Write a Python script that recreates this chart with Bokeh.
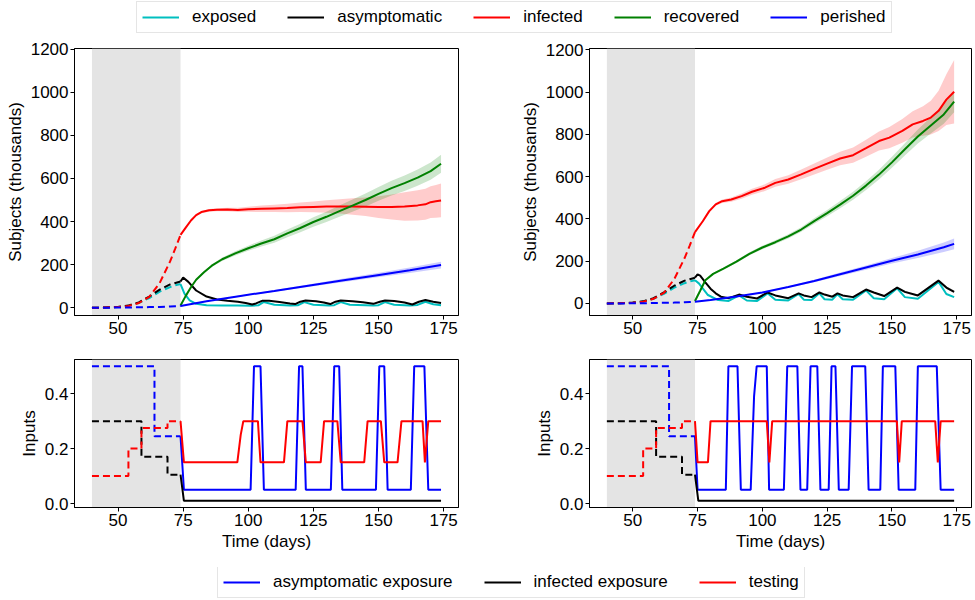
from bokeh.plotting import figure
from bokeh.models import Range1d, FixedTicker, Legend, LegendItem, BoxAnnotation, NumeralTickFormatter
from bokeh.layouts import column, row
from bokeh.embed import file_html
from bokeh.resources import INLINE

FONT = "Liberation Sans"
C_EXP, C_ASY, C_INF, C_REC, C_PER = "#00bfbf", "#000000", "#ff0000", "#008000", "#0000ff"

# ---------------- data ----------------
X_TICKS = [50, 75, 100, 125, 150, 175]
Y_TICKS_TOP = [0, 200, 400, 600, 800, 1000, 1200]
Y_TICKS_BOT = [0.0, 0.2, 0.4]
LOCKDOWN = [40, 74]

# pre-intervention (dashed), same in both panels
t_pre = [40, 45, 50, 54, 58, 62, 66, 70, 72, 74]
infected_pre = [0, 1, 3, 8, 22, 50, 115, 215, 275, 338]
asym_pre = [0, 1, 4, 10, 25, 52, 84, 108, 115, 122]
exposed_pre = [0, 1, 3, 9, 22, 45, 75, 96, 104, 110]
perished_pre = [0, 0, 1, 1, 2, 3, 4, 6, 7, 8]

# left panel
L_inf_t = [74, 76, 78, 80, 82, 85, 88, 92, 96, 100, 105, 110, 115, 120, 125, 130, 135, 140, 145, 150, 155, 160, 165, 168, 170, 172, 174]
L_inf = [338, 372, 405, 430, 444, 452, 455, 456, 454, 457, 459, 461, 463, 466, 468, 470, 470, 470, 469, 467, 467, 470, 475, 480, 490, 494, 498]
L_inf_sd = [0, 2, 3, 4, 5, 6, 7, 8, 10, 12, 15, 17, 20, 22, 25, 29, 33, 38, 43, 50, 58, 66, 70, 72, 74, 76, 78]

L_rec_t = [74, 76, 78, 80, 83, 86, 90, 95, 100, 105, 110, 115, 120, 125, 130, 135, 140, 145, 150, 155, 160, 165, 170, 174]
L_rec = [10, 55, 95, 130, 165, 195, 225, 252, 276, 298, 318, 345, 370, 398, 422, 448, 474, 500, 528, 555, 578, 604, 634, 668]
L_rec_sd = [0, 2, 3, 4, 5, 6, 8, 10, 12, 14, 16, 18, 20, 22, 24, 26, 28, 30, 32, 34, 36, 38, 40, 42]

L_per_t = [74, 84, 97, 110, 123, 136, 149, 162, 174]
L_per = [8, 30, 55, 78, 102, 126, 150, 174, 198]
L_per_sd = [0, 2, 3, 4, 6, 8, 10, 13, 16]

L_exp_t = [74, 75.5, 77.5, 80, 84, 90, 96, 101, 104, 106, 110, 116, 119, 121.5, 125, 131, 133, 135.5, 139, 148, 150, 152.5, 156, 162, 165, 168, 171, 174]
L_exp = [110, 65, 34, 18, 12, 10, 10, 9, 12, 27, 14, 10, 11, 26, 14, 10, 12, 26, 14, 10, 12, 26, 14, 10, 13, 28, 16, 12]

L_asy_t = [74, 75, 77, 80, 84, 88, 92, 96, 99, 101.5, 103, 105.5, 108, 112, 116, 118, 120, 122, 126, 129, 131.5, 133.5, 135.5, 140, 144, 148, 150.5, 152.5, 156, 160, 163, 165.5, 168, 171, 174]
L_asy = [122, 140, 120, 80, 52, 38, 32, 28, 22, 15, 20, 33, 32, 27, 20, 17, 28, 34, 30, 24, 17, 28, 34, 30, 25, 18, 28, 34, 31, 24, 15, 28, 36, 28, 22]

# right panel
R_inf_t = [74, 77, 79.5, 82, 84.5, 88, 92, 96, 101, 105, 110, 115, 120, 125, 130, 135, 140, 145, 149, 154, 158, 162, 165, 168, 171, 174]
R_inf = [338, 389, 437, 469, 484, 492, 508, 529, 548, 571, 587, 611, 637, 662, 686, 702, 735, 769, 785, 817, 848, 864, 880, 912, 965, 1002]
R_inf_sd = [2, 4, 6, 7, 8, 10, 12, 14, 16, 18, 20, 23, 26, 29, 32, 36, 40, 45, 50, 56, 62, 70, 80, 95, 120, 150]

R_rec_t = [74, 76, 78, 81, 85, 90, 95, 100, 105, 110, 115, 120, 125, 130, 135, 140, 145, 150, 155, 160, 165, 170, 174]
R_rec = [12, 60, 110, 140, 165, 198, 235, 265, 290, 318, 350, 390, 428, 468, 510, 558, 610, 668, 730, 790, 843, 895, 955]
R_rec_sd = [0, 2, 3, 4, 5, 6, 7, 8, 9, 10, 11, 13, 15, 17, 19, 21, 23, 26, 29, 33, 38, 44, 50]

R_per_t = [74, 80, 90, 100, 110, 120, 130, 140, 150, 160, 170, 174]
R_per = [8, 16, 33, 52, 78, 106, 138, 170, 202, 232, 266, 282]
R_per_sd = [0, 1, 2, 3, 4, 6, 8, 10, 13, 17, 22, 25]

R_exp_t = [74, 75.5, 79, 83, 87, 91, 94, 98, 102, 105, 110, 114, 116, 119, 122, 124, 127, 129, 131, 135, 140, 143, 147, 152, 155, 160, 168, 171, 174]
R_exp = [110, 95, 40, 16, 12, 38, 14, 12, 48, 18, 14, 45, 18, 16, 48, 20, 18, 44, 20, 18, 62, 25, 20, 72, 30, 22, 102, 45, 30]

R_asy_t = [74, 75, 76, 78, 80, 82, 84, 87, 91, 94, 98, 102, 105, 110, 114, 116, 119, 122, 124, 127, 129, 131, 135, 140, 143, 147, 152, 155, 160, 168, 171, 174]
R_asy = [122, 138, 132, 100, 70, 48, 32, 25, 42, 32, 24, 52, 38, 25, 48, 38, 30, 52, 42, 32, 48, 38, 30, 66, 52, 35, 75, 55, 38, 108, 75, 55]
R_asy_sd = [0, 1, 1, 1, 1, 1, 1, 1, 2, 2, 2, 2, 2, 2, 3, 3, 3, 3, 3, 3, 3, 3, 4, 4, 4, 4, 5, 5, 5, 8, 7, 6]

# inputs (pre-intervention, dashed, same in both panels)
in_asy_pre_t = [40, 64, 64, 74]
in_asy_pre = [0.5, 0.5, 0.245, 0.245]
in_inf_pre_t = [40, 59, 59, 69, 69, 74]
in_inf_pre = [0.3, 0.3, 0.17, 0.17, 0.105, 0.105]
in_test_pre_t = [40, 54, 54, 59, 59, 69, 69, 74]
in_test_pre = [0.1, 0.1, 0.2, 0.2, 0.275, 0.275, 0.3, 0.3]

in_inf_post_t = [74, 75.3, 174]
in_inf_post = [0.105, 0.01, 0.01]

L_in_asy_t = [74, 75.3, 100.9, 102.2, 104.7, 106, 118.2, 119.5, 120.8, 122.1, 131.7, 133, 134.9, 136.1, 149, 150.3, 152.2, 153.5, 162.4, 163.7, 167.6, 169.1, 174]
L_in_asy = [0.245, 0.05, 0.05, 0.5, 0.5, 0.05, 0.05, 0.5, 0.5, 0.05, 0.05, 0.5, 0.5, 0.05, 0.05, 0.5, 0.5, 0.05, 0.05, 0.5, 0.5, 0.05, 0.05]
L_in_test_t = [74, 75.3, 95.8, 97.1, 98.1, 103.7, 104.7, 113.7, 115, 120.8, 122.1, 127.8, 129.1, 134.2, 135.5, 144.5, 145.8, 150.9, 152.2, 157.3, 158.8, 166.9, 167.8, 169.1, 174]
L_in_test = [0.3, 0.15, 0.15, 0.25, 0.3, 0.3, 0.15, 0.15, 0.3, 0.3, 0.15, 0.15, 0.3, 0.3, 0.15, 0.15, 0.3, 0.3, 0.15, 0.15, 0.3, 0.3, 0.15, 0.3, 0.3]

R_in_asy_t = [74, 75, 85.9, 86.9, 90.4, 91.7, 95.5, 96.8, 97.8, 101.7, 102.6, 108.3, 109.6, 113.5, 114.7, 117.3, 118.6, 121.2, 122.4, 125.6, 126.7, 128.2, 129.5, 133.3, 134.6, 139.7, 141, 145.5, 146.5, 151.3, 152.6, 159, 160, 167.3, 168.8, 174]
R_in_asy = [0.245, 0.05, 0.05, 0.5, 0.5, 0.05, 0.05, 0.39, 0.5, 0.5, 0.05, 0.05, 0.5, 0.5, 0.05, 0.05, 0.5, 0.5, 0.05, 0.05, 0.5, 0.5, 0.05, 0.05, 0.5, 0.5, 0.05, 0.05, 0.5, 0.5, 0.05, 0.05, 0.5, 0.5, 0.05, 0.05]
R_in_test_t = [74, 75, 79, 80, 101.7, 102.7, 103.8, 151.9, 152.8, 153.8, 166.7, 167.7, 168.8, 174]
R_in_test = [0.3, 0.15, 0.15, 0.3, 0.3, 0.15, 0.3, 0.3, 0.15, 0.3, 0.3, 0.15, 0.3, 0.3]

TOP_LABELS = ["exposed", "asymptomatic", "infected", "recovered", "perished"]
TOP_COLORS = [C_EXP, C_ASY, C_INF, C_REC, C_PER]
BOT_LABELS = ["asymptomatic exposure", "infected exposure", "testing"]
BOT_COLORS = [C_PER, C_ASY, C_INF]

X_RANGE = (33.3, 180.7)
DASH = "7 4"
LW = 2


def band(p, t, v, sd, color):
    lo = [a - b for a, b in zip(v, sd)]
    hi = [a + b for a, b in zip(v, sd)]
    p.varea(x=t, y1=lo, y2=hi, fill_color=color, fill_alpha=0.2)


def make_fig(fw, fh, bl, br, bt, bb, yr):
    p = figure(frame_width=fw, frame_height=fh, min_border_left=bl, min_border_right=br,
               min_border_top=bt, min_border_bottom=bb, x_range=Range1d(*X_RANGE),
               y_range=Range1d(*yr), output_backend="svg", toolbar_location=None)
    p.grid.visible = False
    p.outline_line_color = "black"
    p.outline_line_alpha = 1
    p.outline_line_width = 1
    p.background_fill_color = "white"
    p.border_fill_color = "white"
    for ax in p.axis:
        ax.major_label_text_font = FONT
        ax.major_label_text_font_size = "17px"
        ax.major_label_text_color = "black"
        ax.axis_label_text_font = FONT
        ax.axis_label_text_font_size = "17px"
        ax.axis_label_text_font_style = "normal"
        ax.axis_label_text_color = "black"
        ax.major_tick_out = 4
        ax.major_tick_in = 0
        ax.minor_tick_out = 0
        ax.minor_tick_in = 0
        ax.axis_line_color = "black"
        ax.major_tick_line_color = "black"
        ax.major_label_standoff = 2
        ax.axis_label_standoff = 3
    p.xaxis.ticker = FixedTicker(ticks=X_TICKS)
    p.add_layout(BoxAnnotation(left=LOCKDOWN[0], right=LOCKDOWN[1], fill_color="#e4e4e4",
                               fill_alpha=1, line_color=None, level="underlay"))
    return p


def top_panel(p, data):
    (inf_t, inf, inf_sd, rec_t, rec, rec_sd, per_t, per, per_sd, exp_t, exp_, asy_t, asy, asy_sd) = data
    band(p, inf_t, inf, inf_sd, C_INF)
    band(p, rec_t, rec, rec_sd, C_REC)
    band(p, per_t, per, per_sd, C_PER)
    if asy_sd is not None:
        band(p, asy_t, asy, asy_sd, "#000000")
    p.line(t_pre, exposed_pre, color=C_EXP, line_width=LW, line_dash=DASH)
    p.line(t_pre, asym_pre, color=C_ASY, line_width=LW, line_dash=DASH)
    p.line(t_pre, infected_pre, color=C_INF, line_width=LW, line_dash=DASH)
    p.line(t_pre, perished_pre, color=C_PER, line_width=LW, line_dash=DASH)
    p.line(exp_t, exp_, color=C_EXP, line_width=LW)
    p.line(asy_t, asy, color=C_ASY, line_width=LW)
    p.line(inf_t, inf, color=C_INF, line_width=LW)
    p.line(rec_t, rec, color=C_REC, line_width=LW)
    p.line(per_t, per, color=C_PER, line_width=LW)
    p.yaxis.ticker = FixedTicker(ticks=Y_TICKS_TOP)
    p.yaxis.axis_label = "Subjects (thousands)"


def bot_panel(p, asy_t, asy, test_t, test):
    p.line(in_asy_pre_t, in_asy_pre, color=C_PER, line_width=LW, line_dash=DASH)
    p.line(in_inf_pre_t, in_inf_pre, color=C_ASY, line_width=LW, line_dash=DASH)
    p.line(in_test_pre_t, in_test_pre, color=C_INF, line_width=LW, line_dash=DASH)
    p.line(asy_t, asy, color=C_PER, line_width=LW)
    p.line(in_inf_post_t, in_inf_post, color=C_ASY, line_width=LW)
    p.line(test_t, test, color=C_INF, line_width=LW)
    p.yaxis.ticker = FixedTicker(ticks=Y_TICKS_BOT)
    p.yaxis.formatter = NumeralTickFormatter(format="0.0")
    p.yaxis.axis_label = "Inputs"
    p.xaxis.axis_label = "Time (days)"


def legend_fig(h, labels, colors, loc, spacing):
    p = figure(width=973, height=h, x_range=Range1d(0, 1), y_range=Range1d(0, 1),
               x_axis_type=None, y_axis_type=None, output_backend="svg", toolbar_location=None,
               min_border=0, min_border_left=0, min_border_right=0, min_border_top=0, min_border_bottom=0)
    p.grid.visible = False
    p.outline_line_color = None
    items = []
    for lab, c in zip(labels, colors):
        # legend-only proxy line, placed outside the visible range
        r = p.line(x=[5, 6], y=[5, 5], color=c, line_width=LW)
        items.append(LegendItem(label=lab, renderers=[r]))
    lg = Legend(items=items, orientation="horizontal", location=loc, padding=5, margin=0,
                spacing=spacing, glyph_width=37, glyph_height=20, label_standoff=13,
                label_text_font=FONT, label_text_font_size="17px", label_text_color="black",
                border_line_color="#cccccc", border_line_width=1,
                background_fill_color="white", background_fill_alpha=1)
    p.add_layout(lg, "center")
    return p


YR_TL = (-36, 1203)
YR_TR = (-57, 1207)
YR_B = (-0.0145, 0.5245)

# left column: border 74 | frame 384 | 40 ; right column: 91 | frame 382 | 2
tl = make_fig(384, 267, 74, 40, 8, 34, YR_TL)
top_panel(tl, (L_inf_t, L_inf, L_inf_sd, L_rec_t, L_rec, L_rec_sd, L_per_t, L_per, L_per_sd,
               L_exp_t, L_exp, L_asy_t, L_asy, None))
tr = make_fig(382, 267, 91, 2, 8, 34, YR_TR)
top_panel(tr, (R_inf_t, R_inf, R_inf_sd, R_rec_t, R_rec, R_rec_sd, R_per_t, R_per, R_per_sd,
               R_exp_t, R_exp, R_asy_t, R_asy, R_asy_sd))

bl = make_fig(384, 148, 74, 40, 10, 60, YR_B)
bot_panel(bl, L_in_asy_t, L_in_asy, L_in_test_t, L_in_test)
br = make_fig(382, 148, 91, 2, 10, 60, YR_B)
bot_panel(br, R_in_asy_t, R_in_asy, R_in_test_t, R_in_test)

leg_top = legend_fig(40, TOP_LABELS, TOP_COLORS, (136, 7), 31)
leg_bot = legend_fig(31, BOT_LABELS, BOT_COLORS, (217, 0), 31)

layout = column(leg_top, row(tl, tr), row(bl, br), leg_bot)
open("out.html", "w").write(file_html(layout, INLINE))
